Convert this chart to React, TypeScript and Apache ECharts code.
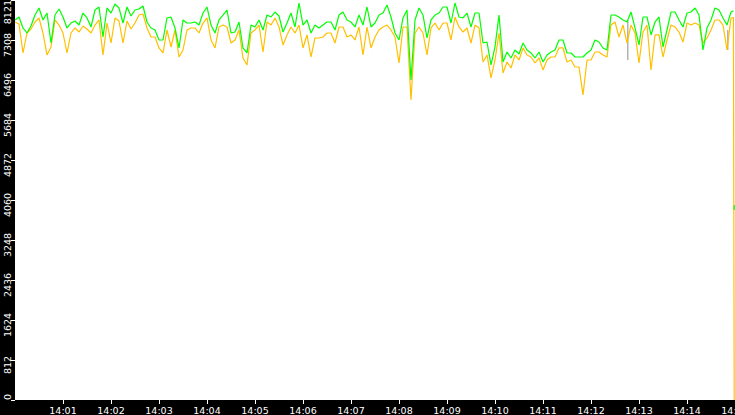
import React, { useEffect, useRef } from "react";
import * as echarts from "echarts";

// samples every 5 s from 14:00:00
const sampleSeconds = 5;

const greenValues = [
  7715, 7776, 7553, 7451, 7593, 7816, 7959, 7715, 7857, 7248, 7816, 7938, 7776, 7553, 7654,
  7695, 7613, 7857, 7756, 7573, 7918, 7979, 7370, 7959, 7857, 8040, 7959, 7654, 7979, 7796,
  7918, 7938, 7999, 7674, 7553, 7512, 7309, 7309, 7756, 7776, 7553, 7147, 7715, 7654, 7654,
  7674, 7613, 7857, 7979, 7613, 7451, 7715, 7816, 7918, 7451, 7471, 7674, 7147, 7045, 7613,
  7573, 7715, 7512, 7816, 7776, 7877, 7796, 7471, 7654, 7857, 7573, 8060, 7613, 7715, 7451,
  7613, 7553, 7613, 7674, 7674, 7512, 7816, 7877, 7715, 7674, 7573, 7816, 7613, 7979, 7573,
  7654, 7816, 7857, 8020, 7776, 7451, 7309, 7756, 7918, 6497, 7715, 7959, 7816, 7350, 7715,
  7816, 7857, 7979, 7979, 7654, 8060, 7776, 7756, 7857, 7573, 7857, 7857, 7248, 7268, 6802,
  7167, 7816, 6862, 7065, 6944, 7106, 7025, 7248, 7106, 7045, 6944, 7065, 6862, 7005, 7065,
  7106, 7309, 7309, 7045, 7045, 6964, 6964, 6964, 7045, 7106, 7309, 7268, 7147, 7106, 7816,
  7816, 7776, 7715, 7674, 7877, 7553, 7208, 7776, 7776, 7411, 7674, 7776, 7167, 7512, 7877,
  7877, 7715, 7573, 7857, 7877, 7959, 7816, 7106, 7553, 7715, 7959, 7918, 7756, 7613, 7877,
];

const orangeValues = [
  7674, 7634, 7045, 7451, 7532, 7674, 7756, 7451, 7005, 7167, 7715, 7613, 7451, 7045, 7451,
  7553, 7471, 7593, 7532, 7451, 7613, 7715, 7005, 7654, 7248, 7756, 7695, 7248, 7695, 7532,
  7654, 7816, 7837, 7553, 7370, 7370, 7147, 7045, 7512, 7167, 7512, 6964, 7106, 7512, 7553,
  7553, 7451, 7654, 7756, 7309, 7147, 7573, 7613, 7573, 7248, 7309, 7512, 6944, 6802, 7451,
  7512, 7613, 7065, 7674, 7613, 7756, 7573, 7208, 7411, 7573, 7451, 7613, 7147, 7411, 6964,
  7350, 7350, 7370, 7451, 7451, 7248, 7573, 7573, 7370, 7411, 7309, 7573, 7005, 7573, 7147,
  7370, 7512, 7573, 7613, 7512, 7370, 6842, 7573, 7573, 6091, 7451, 7573, 7451, 7005, 7553,
  7654, 7512, 7654, 7654, 7309, 7776, 7573, 7471, 7553, 7248, 7613, 7553, 6862, 7005, 6538,
  6903, 7451, 6639, 6862, 6741, 7005, 6903, 7147, 7005, 6964, 6842, 6944, 6700, 6903, 6964,
  6964, 7147, 7147, 6862, 6903, 6761, 6761, 6193, 6903, 6903, 7065, 7065, 7005, 6964, 7613,
  7674, 7370, 7613, 7248, 7613, 7451, 6842, 7471, 7613, 6700, 7411, 7411, 6964, 7309, 7613,
  7573, 7471, 7268, 7654, 7613, 7654, 7613, 7248, 7350, 7512, 7715, 7715, 7613, 7106, 7756,
];

// last readings before the feed stops at 14:14:59
const orangeTail = [
  [898, 7766],
  [899, 0],
];
const greenTail = [
  [898, 7900],
  [898.6, 7900],
];
const greenLast = [
  [899, 3960],
  [899, 3860],
];

// thin grey traces: [second, from, to]
const greyDips = [
  [766, 7715, 6903],
  [891, 7512, 7106],
];

const minuteLabels = [
  "14:00", "14:01", "14:02", "14:03", "14:04", "14:05", "14:06", "14:07",
  "14:08", "14:09", "14:10", "14:11", "14:12", "14:13", "14:14", "14:15",
];
const yTickLabels = ["0", "812", "1624", "2436", "3248", "4060", "4872", "5684", "6496", "7308", "8121"];
const yMax = 8121;
const yStep = 812.1;

const style = { position: "fixed" as const, left: 0, top: 0, width: "735px", height: "415px" };

const App: React.FC = () => {
  const chartRef = useRef<HTMLDivElement>(null);

  useEffect(() => {
    if (!chartRef.current) return;

    const orangeData: any[] = orangeValues.map((v, i) => [i * sampleSeconds, v]);
    orangeData.push(...orangeTail);

    const greenData: any[] = greenValues.map((v, i) => [i * sampleSeconds, v]);
    greenData.push(...greenTail);
    greenData.push([898.8, null]);
    greenData.push(...greenLast);

    const greyData: any[] = [];
    greyDips.forEach(([t, a, b]) => {
      greyData.push([t, a], [t, b], [t + 1, null]);
    });

    const minuteTicks = minuteLabels.map((_, i) => i * 60).slice(1);
    const font = { color: "#fff", fontSize: 9.5, fontFamily: "DejaVu Sans" };

    const line = (color: string, data: any[]) => ({
      type: "line",
      data,
      symbol: "none",
      showSymbol: false,
      connectNulls: false,
      silent: true,
      lineStyle: { color, width: 1.2 },
    });

    const option = {
      animation: false,
      backgroundColor: "#000",
      grid: {
        left: 15,
        right: 0,
        top: 0,
        bottom: 15,
        outerBoundsMode: "none",
        show: true,
        backgroundColor: "#fff",
        borderWidth: 0,
      },
      xAxis: {
        type: "value",
        min: 0,
        max: 900,
        interval: 60,
        axisLine: { show: false },
        splitLine: { show: false },
        axisTick: {
          show: true,
          length: 4,
          lineStyle: { color: "#fff" },
          customValues: minuteTicks,
        },
        axisLabel: {
          ...font,
          margin: 5,
          hideOverlap: false,
          customValues: minuteTicks,
          formatter: (v: number) => minuteLabels[Math.round(v / 60)],
        },
      },
      yAxis: {
        type: "value",
        min: 0,
        max: yMax,
        interval: yStep,
        axisLine: { show: false },
        splitLine: { show: false },
        axisTick: { show: true, length: 4, lineStyle: { color: "#fff" } },
        axisLabel: {
          ...font,
          rotate: 90,
          margin: 3,
          alignMinLabel: "left",
          alignMaxLabel: "right",
          formatter: (v: number) => {
            const idx = Math.round(v / yStep);
            const label = yTickLabels[idx];
            if (idx === 0 || idx === yTickLabels.length - 1) return label;
            return label + "{s| }";
          },
          rich: { s: { width: 10 } },
        },
      },
      series: [
        line("#a0a0a0", greyData),
        line("#ffc000", orangeData),
        line("#00ff00", greenData),
      ],
    };

    const myChart = echarts.init(chartRef.current, undefined, { renderer: "svg" });
    myChart.setOption(option as any);

    return () => {
      myChart.dispose();
    };
  }, []);

  return <div ref={chartRef} style={style} />;
};

export default App;
